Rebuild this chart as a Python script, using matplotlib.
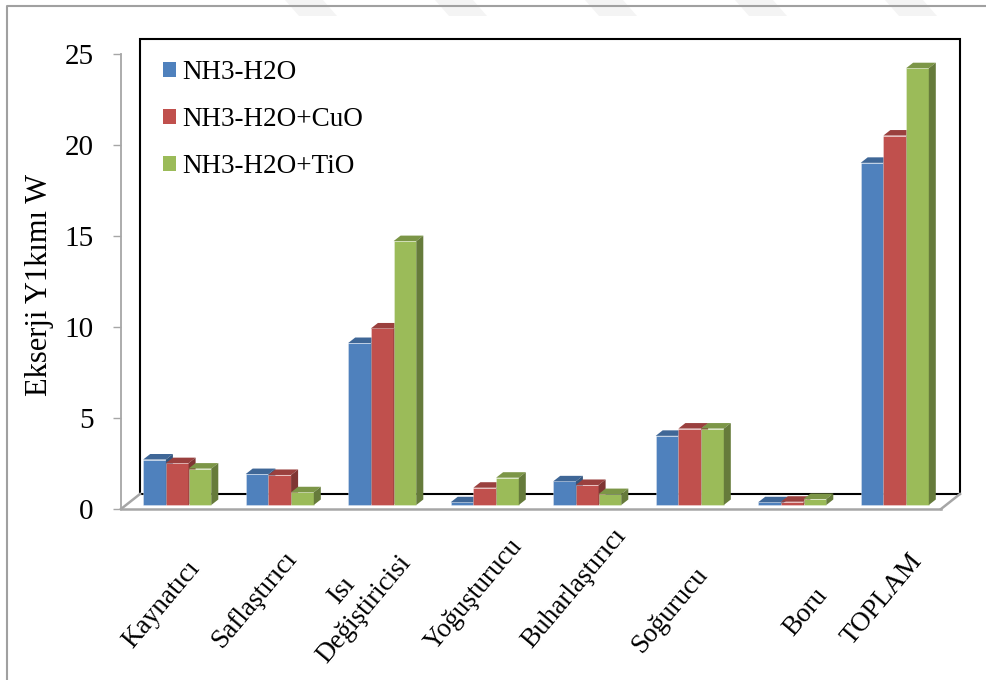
import matplotlib
matplotlib.use("Agg")
import matplotlib.pyplot as plt
from matplotlib.patches import Polygon, Rectangle, Patch
from matplotlib.lines import Line2D

# ---- data ---------------------------------------------------------------
categories = ["Kaynatıcı", "Saflaştırıcı", "Isı\nDeğiştiricisi", "Yoğuşturucu",
              "Buharlaştırıcı", "Soğurucu", "Boru", "TOPLAM"]
series_names = ["NH3-H2O", "NH3-H2O+CuO", "NH3-H2O+TiO"]
nh3_h2o = [2.5, 1.7, 8.9, 0.15, 1.3, 3.8, 0.15, 18.8]
nh3_h2o_cuo = [2.3, 1.65, 9.7, 0.95, 1.1, 4.2, 0.18, 20.3]
nh3_h2o_tio = [2.0, 0.7, 14.5, 1.5, 0.6, 4.2, 0.33, 24.0]
y_ticks = [0, 5, 10, 15, 20, 25]
y_label = "Ekserji Y1kımı W"

series = [nh3_h2o, nh3_h2o_cuo, nh3_h2o_tio]
face_colors = [(0.310, 0.506, 0.741), (0.753, 0.314, 0.302), (0.608, 0.733, 0.349)]

# per-label placement of the rotated category names (pixels: shift from the
# category centre, distance below the zero line)
label_dx_px = [-11, -20, -24, -6, -8, -15, 18, -8]
label_drop_px = [96, 91, 91, 86, 79, 101, 103, 90]


def shade(c, f):
    return tuple(v * f for v in c)


plt.rcParams['font.family'] = ['Liberation Serif', 'DejaVu Serif']

W, H, DPI = 986, 680, 100
fig = plt.figure(figsize=(W / DPI, H / DPI), dpi=DPI)
fig.patch.set_facecolor("white")

# front plane of the pseudo-3D chart (pixel frame)
left_px, right_px, zero_px, top_px = 121, 941, 509, 54
ax = fig.add_axes([left_px / W, 1 - zero_px / H,
                   (right_px - left_px) / W, (zero_px - top_px) / H])
n = len(categories)
ymax = 25
ax.set_xlim(0, n)
ax.set_ylim(0, ymax)
ax.patch.set_visible(False)

ux = n / (right_px - left_px)      # data units per pixel, x
uy = ymax / (zero_px - top_px)     # data units per pixel, y

# depth vectors (pixels converted to data units)
wall_dx, wall_dy = 19 * ux, 15 * uy
front_dx, front_dy = 5 * ux, 4 * uy
depth_dx, depth_dy = 7 * ux, 5.5 * uy

# back wall
ax.add_patch(Rectangle((wall_dx, wall_dy), n, ymax, facecolor="white",
                       edgecolor="black", lw=1.5, clip_on=False, zorder=0))
# floor side edges
floor_col = "#A6A6A6"
for x0 in (0, n):
    ax.add_line(Line2D([x0, x0 + wall_dx], [0, wall_dy], color=floor_col,
                       lw=1.8, clip_on=False, zorder=1))

# value axis and front floor edge
for side in ("top", "right"):
    ax.spines[side].set_visible(False)
ax.spines["left"].set_color("#A6A6A6")
ax.spines["left"].set_linewidth(1.3)
ax.spines["bottom"].set_color(floor_col)
ax.spines["bottom"].set_linewidth(1.8)
ax.set_yticks(y_ticks)
ax.set_yticklabels([str(t) for t in y_ticks])
ax.tick_params(axis="y", direction="out", length=5.8, width=1.0,
               color="#A6A6A6", labelsize=21, pad=14)
ax.set_xticks([])

# bars: front face, top face, side face
bar_w = 22.7 * ux
for s, (vals, col) in enumerate(zip(series, face_colors)):
    xs = [i + 0.5 + (s - 1) * bar_w + front_dx for i in range(n)]
    ax.bar(xs, vals, width=bar_w, bottom=front_dy, color=col,
           edgecolor=(1, 1, 1, 0.35), linewidth=0.6,
           clip_on=False, zorder=3 + s)
    for xc, v in zip(xs, vals):
        x0, x1 = xc - bar_w / 2, xc + bar_w / 2
        yb, yt = front_dy, front_dy + v
        top = Polygon([(x0, yt), (x1, yt), (x1 + depth_dx, yt + depth_dy),
                       (x0 + depth_dx, yt + depth_dy)], closed=True,
                      facecolor=shade(col, 0.8), edgecolor="none",
                      clip_on=False, zorder=3 + s)
        side = Polygon([(x1, yb), (x1 + depth_dx, yb + depth_dy),
                        (x1 + depth_dx, yt + depth_dy), (x1, yt)], closed=True,
                       facecolor=shade(col, 0.66), edgecolor="none",
                       clip_on=False, zorder=3 + s)
        ax.add_patch(top)
        ax.add_patch(side)

# category labels
for i, name in enumerate(categories):
    ax.text(i + 0.5 + label_dx_px[i] * ux, -label_drop_px[i] * uy, name,
            rotation=50, rotation_mode="anchor", ha="center", va="center",
            multialignment="center", fontsize=19.5, clip_on=False)

# legend
handles = [Patch(facecolor=c, edgecolor="none") for c in face_colors]
ax.legend(handles, series_names, loc="upper left",
          bbox_to_anchor=(163 / W, 1 - 60 / H), bbox_transform=fig.transFigure,
          frameon=False, fontsize=19.5, handlelength=0.48, handleheight=0.48,
          handletextpad=0.25, labelspacing=0.82, borderpad=0, borderaxespad=0)

# value axis title
fig.text(40 / W, 1 - 285 / H, y_label, rotation=90, ha="center", va="center",
         fontsize=22)

# page frame and faint header stripes
fig.add_artist(Line2D([7 / W, 7 / W, 1], [0, 1 - 6 / H, 1 - 6 / H],
                      transform=fig.transFigure, color="#A0A0A0", lw=1.5))
for sx in (285, 435, 585, 735, 885):
    pts = [(sx, 0), (sx + 38, 0), (sx + 52, 16), (sx + 14, 16)]
    fig.add_artist(Polygon([(px / W, 1 - py / H) for px, py in pts],
                           closed=True, transform=fig.transFigure,
                           facecolor="#F4F4F4", edgecolor="none", zorder=-1))

fig.savefig("out.png", dpi=DPI)
